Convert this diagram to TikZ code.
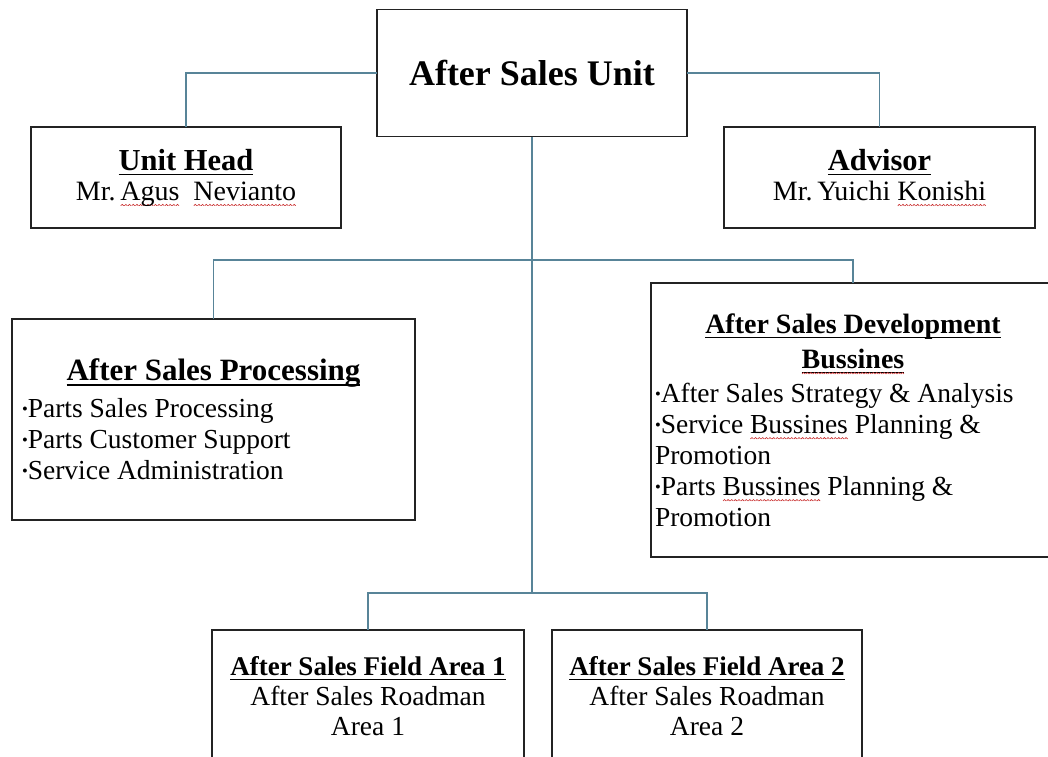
\documentclass[tikz,border=0pt]{standalone}
\usepackage{fontspec}
\setmainfont{Liberation Serif}
\definecolor{conn}{RGB}{88,132,152}
\definecolor{boxline}{RGB}{35,35,35}
\definecolor{spell}{RGB}{200,40,40}
\newsavebox\wavebox
\newcommand{\ul}[1]{\setbox0\hbox{#1}\rlap{\rule[-5pt]{\wd0}{1.5pt}}\box0\relax}
\newcommand{\wv}[1]{\setbox0\hbox{#1}\rlap{\raisebox{-6pt}{\hbox to \wd0{\xleaders\copy\wavebox\hfill}}}\box0\relax}
\newcommand{\bl}{\raisebox{0.25ex}{\scalebox{0.6}{\textbullet}}}
\tikzset{
  orgbox/.style={draw=boxline,line width=1.8pt,fill=white,inner sep=0pt,outer sep=0pt,align=center},
  connector/.style={draw=conn,line width=1.4pt}
}
\begin{document}
\begin{tikzpicture}[x=1pt,y=1pt]
\pgfinterruptpicture
\global\sbox\wavebox{\begin{pgfpicture}\pgfsetlinewidth{0.6pt}\pgfsetstrokecolor{spell}\pgfpathmoveto{\pgfpoint{0pt}{0pt}}\pgfpathlineto{\pgfpoint{1.5pt}{1.4pt}}\pgfpathlineto{\pgfpoint{3pt}{0pt}}\pgfusepath{stroke}\end{pgfpicture}}%
\endpgfinterruptpicture
\begin{scope}[y=-1pt]
\useasboundingbox[fill=white] (0,0) rectangle (1048,756);
\coordinate (branch) at (532,260);
\coordinate (branchb) at (532,593);
\node[orgbox,minimum width=310pt,minimum height=127pt,font={\fontsize{36}{40}\selectfont\bfseries}] (asu) at (532,73) {After Sales Unit};
\node[orgbox,minimum width=310pt,minimum height=101pt,font={\fontsize{28}{30}\selectfont}] (head) at (186,177.5)
  {\ul{\fontsize{30.5}{31}\selectfont\bfseries Unit Head}\\Mr.\,\wv{Agus}\ \ \wv{Nevianto}};
\node[orgbox,minimum width=311pt,minimum height=101pt,font={\fontsize{28}{30}\selectfont}] (adv) at (879.5,177.5)
  {\ul{\fontsize{30.5}{31}\selectfont\bfseries Advisor}\\Mr.\,Yuichi \wv{Konishi}};
\node[orgbox,minimum width=403pt,minimum height=201pt,font={\fontsize{27.5}{31}\selectfont},align=left] (proc) at (213.5,419.5)
  {\makebox[383pt][c]{\ul{\fontsize{31}{31}\selectfont\bfseries After Sales Processing}}\\[6pt]
   \makebox[383pt][l]{\bl Parts Sales Processing}\\
   \makebox[383pt][l]{\bl Parts Customer Support}\\
   \makebox[383pt][l]{\bl Service Administration}};
\node[orgbox,minimum width=404pt,minimum height=274pt,font={\fontsize{27.5}{31}\selectfont},align=left] (dev) at (853,420)
  {\makebox[396pt][c]{\ul{\fontsize{28}{34}\selectfont\bfseries After Sales Development}}\\[4pt]
   \makebox[396pt][c]{\ul{\fontsize{28}{34}\selectfont\bfseries \wv{Bussines}}}\\[3pt]
   \makebox[396pt][l]{\bl After Sales Strategy \& Analysis}\\
   \makebox[396pt][l]{\bl Service \wv{Bussines} Planning \&}\\
   \makebox[396pt][l]{Promotion}\\
   \makebox[396pt][l]{\bl Parts \wv{Bussines} Planning \&}\\
   \makebox[396pt][l]{Promotion}};
\node[orgbox,minimum width=312pt,minimum height=132pt,font={\fontsize{27.5}{30}\selectfont}] (f1) at (368,696)
  {\ul{\fontsize{27}{30}\selectfont\bfseries After Sales Field Area 1}\\After Sales Roadman\\Area 1};
\node[orgbox,minimum width=310pt,minimum height=132pt,font={\fontsize{27.5}{30}\selectfont}] (f2) at (707,696)
  {\ul{\fontsize{27}{30}\selectfont\bfseries After Sales Field Area 2}\\After Sales Roadman\\Area 2};
\draw[connector] (asu.west) -| (head.north);
\draw[connector] (asu.east) -| (adv.north);
\draw[connector] (asu.south) -- (branchb);
\draw[connector] (branch) -| (proc.north);
\draw[connector] (branch) -| (dev.north);
\draw[connector] (branchb) -| (f1.north);
\draw[connector] (branchb) -| (f2.north);
\end{scope}
\end{tikzpicture}
\end{document}
